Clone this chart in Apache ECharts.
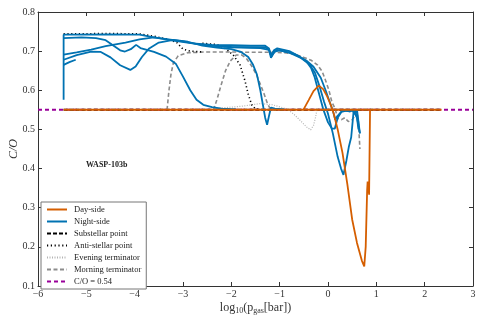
<!DOCTYPE html>
<html>
<head>
<meta charset="utf-8">
<script src="https://cdn.jsdelivr.net/npm/echarts@6/dist/echarts.min.js"></script>
<style>
  html, body { margin: 0; padding: 0; background: #fff; }
  #chart { width: 483px; height: 322px; }
</style>
</head>
<body>
<div id="chart"></div>
<script>
// x = log10(p_gas [bar]), y = C/O
var xTicks = [-6, -5, -4, -3, -2, -1, 0, 1, 2, 3];
var yTicks = [0.1, 0.2, 0.3, 0.4, 0.5, 0.6, 0.7, 0.8];

var refLine = [[-6, 0.55], [3, 0.55]];

// day-side profiles
var dayFlat = [[-5.47, 0.55], [2.35, 0.55]];
var dayBump = [
  [-0.51, 0.55], [-0.4, 0.575], [-0.3, 0.598], [-0.19, 0.612], [-0.1, 0.603],
  [-0.02, 0.585], [0.05, 0.565], [0.12, 0.54], [0.2, 0.5], [0.3, 0.44], [0.4, 0.36],
  [0.5, 0.27], [0.6, 0.21], [0.7, 0.165], [0.75, 0.15], [0.78, 0.2], [0.81, 0.345],
  [0.82, 0.367], [0.84, 0.35], [0.85, 0.333], [0.87, 0.55]
];

var night1 = [
  [-5.47, 0.576], [-5.47, 0.742], [-4.5, 0.743], [-3.9, 0.742], [-3.6, 0.735], [-3.2, 0.727],
  [-2.8, 0.72], [-2.4, 0.716], [-2.0, 0.715], [-1.6, 0.714], [-1.3, 0.714], [-1.22, 0.707],
  [-1.18, 0.69], [-1.12, 0.702], [-1.05, 0.707], [-0.8, 0.7], [-0.6, 0.687], [-0.45, 0.674],
  [-0.35, 0.657], [-0.28, 0.635], [-0.2, 0.598], [-0.1, 0.552], [0.0, 0.518], [0.08, 0.502],
  [0.14, 0.502], [0.2, 0.53], [0.28, 0.545], [0.38, 0.548], [0.45, 0.546], [0.5, 0.55],
  [0.55, 0.54], [0.6, 0.55], [0.64, 0.51], [0.66, 0.49]
];
var night2 = [
  [-5.47, 0.733], [-5.1, 0.735], [-4.8, 0.733], [-4.6, 0.728], [-4.45, 0.715], [-4.3, 0.702],
  [-4.2, 0.699], [-4.08, 0.705], [-3.97, 0.716], [-3.88, 0.708], [-3.6, 0.698], [-3.35, 0.686],
  [-3.15, 0.668], [-3.0, 0.635], [-2.85, 0.6], [-2.72, 0.576], [-2.58, 0.563], [-2.4, 0.557],
  [-2.2, 0.553], [-1.9, 0.551]
];
var night3 = [
  [-5.47, 0.691], [-5.2, 0.697], [-4.9, 0.704], [-4.6, 0.713], [-4.19, 0.722], [-3.9, 0.73],
  [-3.6, 0.735], [-3.3, 0.73], [-3.0, 0.725], [-2.7, 0.718], [-2.4, 0.714], [-2.0, 0.711],
  [-1.6, 0.71], [-1.3, 0.71], [-1.22, 0.703], [-1.18, 0.683], [-1.12, 0.697], [-1.05, 0.703],
  [-0.8, 0.696], [-0.55, 0.682], [-0.38, 0.666], [-0.27, 0.645], [-0.18, 0.612],
  [-0.08, 0.57], [0.0, 0.54], [0.1, 0.49], [0.2, 0.43], [0.27, 0.4], [0.32, 0.384],
  [0.38, 0.42], [0.43, 0.455], [0.48, 0.48], [0.51, 0.52], [0.53, 0.547], [0.57, 0.548],
  [0.6, 0.53], [0.63, 0.5]
];
var night4 = [
  [-5.47, 0.678], [-5.2, 0.69], [-4.9, 0.699], [-4.7, 0.698], [-4.5, 0.684], [-4.3, 0.664],
  [-4.09, 0.652], [-3.98, 0.661], [-3.85, 0.685], [-3.7, 0.707], [-3.5, 0.722], [-3.2, 0.729],
  [-2.9, 0.724], [-2.6, 0.714], [-2.3, 0.709], [-2.0, 0.705], [-1.8, 0.698], [-1.65, 0.685],
  [-1.55, 0.665], [-1.47, 0.64], [-1.4, 0.6], [-1.35, 0.565], [-1.3, 0.53], [-1.26, 0.512],
  [-1.22, 0.535], [-1.18, 0.556], [-1.1, 0.553], [-0.9, 0.551]
];
var night5 = [[-5.47, 0.665], [-5.35, 0.672], [-5.22, 0.678]];
var night6 = [
  [-2.6, 0.716], [-2.0, 0.71], [-1.4, 0.708], [-1.22, 0.703], [-1.17, 0.686], [-1.1, 0.699],
  [-1.0, 0.702], [-0.7, 0.693], [-0.45, 0.676], [-0.3, 0.66], [-0.15, 0.632], [-0.05, 0.6],
  [0.05, 0.565], [0.1, 0.548], [0.15, 0.525], [0.2, 0.535], [0.3, 0.549], [0.45, 0.546],
  [0.55, 0.55], [0.6, 0.53], [0.66, 0.49]
];

var substellar = [[-5.47, 0.55], [2.35, 0.55]];

var antiStellar1 = [
  [-5.47, 0.744], [-4.5, 0.745], [-3.9, 0.744], [-3.6, 0.738], [-3.3, 0.73], [-3.13, 0.722],
  [-3.0, 0.705], [-2.85, 0.7], [-2.6, 0.698]
];
var antiStellar2 = [
  [-2.6, 0.72], [-2.3, 0.717], [-2.1, 0.705], [-1.96, 0.69], [-1.82, 0.665], [-1.72, 0.625],
  [-1.65, 0.59], [-1.58, 0.563], [-1.5, 0.552], [-1.3, 0.55]
];

var evening = [
  [-2.45, 0.55], [-2.2, 0.555], [-1.8, 0.559], [-1.4, 0.566], [-1.15, 0.563], [-0.95, 0.556],
  [-0.82, 0.55], [-0.7, 0.538], [-0.55, 0.52], [-0.45, 0.507], [-0.36, 0.499], [-0.3, 0.51],
  [-0.26, 0.53], [-0.23, 0.55], [0.0, 0.552], [0.3, 0.552], [0.45, 0.553], [0.55, 0.548]
];

var morning1 = [
  [-3.33, 0.55], [-3.29, 0.6], [-3.25, 0.64], [-3.2, 0.67], [-3.1, 0.688], [-2.9, 0.696],
  [-2.5, 0.698], [-2.0, 0.698], [-1.6, 0.697], [-1.2, 0.697], [-0.9, 0.696], [-0.7, 0.693],
  [-0.5, 0.684], [-0.35, 0.677], [-0.22, 0.665], [-0.12, 0.648], [-0.05, 0.625], [0.02, 0.6],
  [0.08, 0.57], [0.15, 0.552], [0.2, 0.528], [0.28, 0.525], [0.35, 0.53], [0.42, 0.52],
  [0.5, 0.525], [0.56, 0.535], [0.6, 0.545], [0.63, 0.52], [0.66, 0.45]
];
var morning2 = [
  [-2.37, 0.55], [-2.3, 0.575], [-2.22, 0.61], [-2.12, 0.65], [-2.02, 0.675], [-1.9, 0.69],
  [-1.78, 0.69], [-1.68, 0.68], [-1.58, 0.662], [-1.48, 0.64], [-1.4, 0.615], [-1.32, 0.59],
  [-1.25, 0.565], [-1.18, 0.55], [-1.0, 0.55]
];

var FONT = 'Liberation Serif';
var BLUE = '#0072B2', ORANGE = '#D55E00';

function line(name, data, color, width, type) {
  return {
    name: name, type: 'line', data: data, symbol: 'none', showSymbol: false,
    lineStyle: { color: color, width: width, type: type },
    itemStyle: { color: color },
    silent: true
  };
}

var series = [
  line('C/O = 0.54', refLine, '#990099', 2, [4, 3]),
  line('Substellar point', substellar, '#000', 2, [4, 2]),
  line('Evening terminator', evening, '#b4b4b4', 1.2, [1, 1.5]),
  line('Morning terminator', morning1, '#8c8c8c', 1.6, [4, 2.5]),
  line('Morning terminator', morning2, '#8c8c8c', 1.6, [4, 2.5]),
  line('Anti-stellar point', antiStellar1, '#000', 1.6, [1.2, 2.6]),
  line('Anti-stellar point', antiStellar2, '#000', 1.6, [1.2, 2.6]),
  line('Night-side', night1, BLUE, 1.8, 'solid'),
  line('Night-side', night2, BLUE, 1.8, 'solid'),
  line('Night-side', night3, BLUE, 1.8, 'solid'),
  line('Night-side', night4, BLUE, 1.8, 'solid'),
  line('Night-side', night5, BLUE, 1.8, 'solid'),
  line('Night-side', night6, BLUE, 1.8, 'solid'),
  line('Day-side', dayBump, ORANGE, 1.8, 'solid'),
  line('Day-side', dayFlat, ORANGE, 2, 'solid')
];

var axisCommon = {
  type: 'value',
  axisLine: { show: true, onZero: false, lineStyle: { color: '#333', width: 1 } },
  axisTick: { show: true, inside: true, length: 4, lineStyle: { color: '#333' } },
  splitLine: { show: false }
};

var chart = echarts.init(document.getElementById('chart'), null, { renderer: 'canvas' });
chart.setOption({
  animation: false,
  backgroundColor: '#fff',
  grid: { left: 38, right: 10, top: 12, bottom: 36, containLabel: false, outerBoundsMode: 'none' },
  xAxis: [
    Object.assign({}, axisCommon, {
      min: xTicks[0], max: xTicks[xTicks.length - 1], interval: 1, position: 'bottom',
      axisLabel: {
        margin: 3, color: '#333', fontFamily: FONT, fontSize: 10,
        formatter: function (v) { return v < 0 ? '\u2212' + Math.abs(v) : String(v); }
      },
      name: '{a|log}{s|10}{a|(p}{s|gas}{a|[bar])}',
      nameLocation: 'middle', nameGap: 15, nameMoveOverlap: false,
      nameTextStyle: {
        rich: {
          a: { fontFamily: FONT, fontSize: 12, color: '#333', lineHeight: 14 },
          s: { fontFamily: FONT, fontSize: 8, color: '#333', lineHeight: 14, padding: [6, 0, 0, 0] }
        }
      }
    }),
    Object.assign({}, axisCommon, {
      min: xTicks[0], max: xTicks[xTicks.length - 1], interval: 1, position: 'top',
      axisLabel: { show: false }
    })
  ],
  yAxis: [
    Object.assign({}, axisCommon, {
      min: yTicks[0], max: yTicks[yTicks.length - 1], interval: 0.1, position: 'left',
      axisLabel: {
        margin: 3, color: '#333', fontFamily: FONT, fontSize: 10,
        formatter: function (v) { return v.toFixed(1); }
      },
      name: 'C/O', nameLocation: 'middle', nameGap: 18, nameMoveOverlap: false,
      nameTextStyle: { fontFamily: FONT, fontSize: 12, fontStyle: 'italic', color: '#333' }
    }),
    Object.assign({}, axisCommon, {
      min: yTicks[0], max: yTicks[yTicks.length - 1], interval: 0.1, position: 'right',
      axisLabel: { show: false }
    })
  ],
  legend: {
    orient: 'vertical', left: 41, top: 202,
    data: ['Day-side', 'Night-side', 'Substellar point', 'Anti-stellar point',
           'Evening terminator', 'Morning terminator', 'C/O = 0.54'],
    itemWidth: 20, itemHeight: 8, itemGap: 3,
    padding: [3, 5, 3, 5],
    borderColor: '#777', borderWidth: 1, borderRadius: 0,
    backgroundColor: '#fff',
    itemStyle: { opacity: 0 },
    textStyle: { fontFamily: FONT, fontSize: 8.5, color: '#222', padding: [0, 0, 0, 2] },
    selectedMode: false
  },
  graphic: [{
    type: 'text', left: 86, top: 161,
    style: { text: 'WASP-103b', fontFamily: FONT, fontSize: 8, fontWeight: 'bold', fill: '#222' }
  }],
  series: series
});
</script>
</body>
</html>
